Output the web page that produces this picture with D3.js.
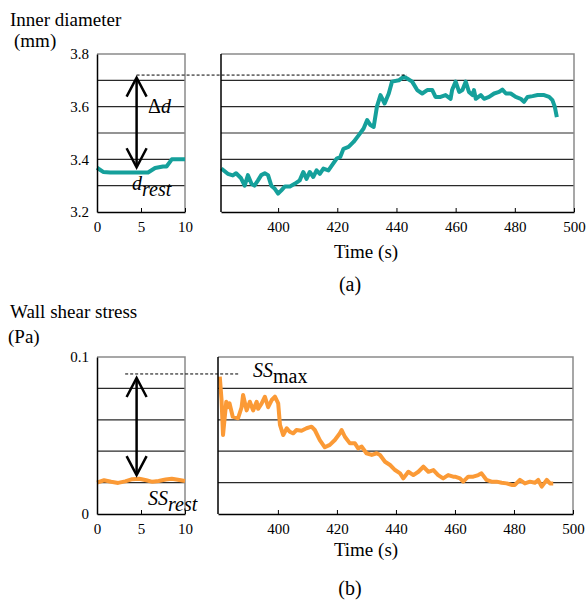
<!DOCTYPE html>
<html>
<head>
<meta charset="utf-8">
<script src="https://cdn.jsdelivr.net/npm/d3@7"></script>
<style>
  body { margin: 0; background: #fff; }
  svg text { font-family: "Liberation Serif", "Times New Roman", serif !important; fill: #000; }
</style>
</head>
<body>
<div id="chart"></div>
<script>
// ---- data ----
// (a) inner diameter, rest period (0-10 s)
var diamRestTime = [0, 0.7, 1.5, 2.5, 3.5, 4.5, 5.8, 6.6, 7.5, 7.9, 8.5, 9.2, 10];
var diamRestVal  = [3.368, 3.352, 3.35, 3.35, 3.35, 3.35, 3.35, 3.367, 3.373, 3.373, 3.40, 3.40, 3.40];

// (a) inner diameter, 380-494 s
var diamTime = [380.8, 383, 384.7, 385.8, 387.5, 388.7, 389.8, 391, 392, 393.2, 394.3, 395.5, 396.6, 397.7,
  398.9, 400, 401.1, 402.3, 404, 405.6, 407.3, 408.5, 409.6, 410.7, 411.9, 413, 414.1, 415.3, 417, 418.6,
  419.8, 421, 422.1, 423.8, 425.5, 427.2, 428.9, 430.1, 431.2, 432.3, 433.4, 434.6, 436, 437.4, 438.5,
  440.8, 442.5, 443.6, 445.3, 447, 448.7, 450.4, 452.1, 453.2, 454.9, 456.6, 458.3, 458.8, 460, 461.2,
  462.3, 463.4, 464.5, 465.7, 466.2, 466.8, 468.5, 469.6, 471.3, 473, 474.7, 475.8, 477, 478.6, 480.3,
  482, 483.1, 484.3, 486, 487.7, 489.9, 491.6, 492.7, 493.5, 494.2];
var diamVal = [3.365, 3.345, 3.339, 3.347, 3.328, 3.30, 3.34, 3.307, 3.30, 3.32, 3.34, 3.347, 3.34, 3.30,
  3.288, 3.27, 3.282, 3.297, 3.297, 3.307, 3.32, 3.352, 3.326, 3.352, 3.333, 3.358, 3.345, 3.365, 3.358, 3.384,
  3.403, 3.409, 3.44, 3.447, 3.466, 3.491, 3.517, 3.549, 3.53, 3.523, 3.60, 3.644, 3.612, 3.65, 3.695,
  3.70, 3.714, 3.707, 3.695, 3.663, 3.65, 3.663, 3.663, 3.637, 3.637, 3.644, 3.63, 3.663, 3.695, 3.656,
  3.663, 3.695, 3.656, 3.644, 3.663, 3.63, 3.644, 3.63, 3.637, 3.65, 3.656, 3.665, 3.65, 3.65, 3.637,
  3.63, 3.618, 3.637, 3.64, 3.644, 3.644, 3.637, 3.625, 3.60, 3.56];

// (b) wall shear stress, rest period
var ssRestTime = [0, 0.8, 1.6, 2.4, 3.2, 4, 4.8, 5.6, 6.3, 7, 7.8, 8.5, 9.2, 10];
var ssRestVal  = [0.020, 0.0215, 0.0205, 0.0198, 0.0208, 0.0222, 0.0225, 0.0215, 0.0205, 0.021, 0.022, 0.0225, 0.0218, 0.021];

// (b) wall shear stress, 380-494 s
var ssTime = [380.3, 380.9, 381.4, 381.9, 382.5, 383, 383.6, 384.7, 386.5, 387.7, 388.2, 389.4, 390.5, 391.6,
  392.8, 393.3, 394.5, 395.6, 396.7, 397.9, 399, 400.1, 400.7, 401.8, 403, 404, 405.2, 406.3, 408, 409.7,
  411.4, 412.5, 414.2, 415.9, 417.6, 419.3, 421, 421.6, 422.7, 424.4, 426.1, 427.2, 428.4, 430, 431.8,
  433.5, 434.6, 436.3, 438, 439.7, 441.4, 442.5, 444.2, 445.9, 447.6, 449.3, 451, 452.7, 454.3, 456,
  457.7, 459.4, 460, 461.7, 462.8, 464.5, 466.2, 467.9, 469, 470.7, 472.4, 474.1, 475.8, 477.5, 479.2,
  480.3, 482, 483.7, 485.4, 487.1, 488.2, 489.4, 491.1, 492.2, 493.3];
var ssVal = [0.0875, 0.0726, 0.0503, 0.06, 0.0715, 0.068, 0.0705, 0.062, 0.061, 0.068, 0.0758, 0.066, 0.0715, 0.066,
  0.0715, 0.067, 0.0705, 0.0747, 0.068, 0.0726, 0.0747, 0.0705, 0.0567, 0.0503, 0.0546, 0.0524, 0.0514, 0.0535, 0.053, 0.0546,
  0.0556, 0.0535, 0.0471, 0.0425, 0.044, 0.0471, 0.0514, 0.0535, 0.0492, 0.045, 0.045, 0.0418, 0.0429, 0.0387, 0.0376,
  0.0387, 0.0376, 0.0333, 0.0312, 0.028, 0.0259, 0.0227, 0.0269, 0.0248, 0.0269, 0.0301, 0.0269, 0.028, 0.0248, 0.0227,
  0.0248, 0.0238, 0.0238, 0.0227, 0.0206, 0.0238, 0.0238, 0.0248, 0.0259, 0.0217, 0.0206, 0.0206, 0.0199, 0.0195, 0.0185,
  0.0185, 0.0217, 0.0195, 0.0206, 0.0199, 0.0217, 0.0174, 0.0217, 0.0195, 0.0195];

// tick labels
var restTicks = [0, 5, 10];
var timeTicks = [400, 420, 440, 460, 480, 500];
var diamTicks = [3.2, 3.4, 3.6, 3.8];
var diamGrid = [3.3, 3.4, 3.5, 3.6, 3.7];
var ssTicks = [0, 0.1];
var ssGrid = [0.02, 0.04, 0.06, 0.08];

// annotation values
var diamMax = 3.72, diamArrow = [3.37, 3.71];
var ssMax = 0.0892, ssArrow = [0.0248, 0.0866];

var teal = "#15a09b", orange = "#fb9a36";

var svg = d3.select("#chart").append("svg")
  .attr("width", 588).attr("height", 601)
  .attr("font-family", "Liberation Serif");

function zip(a, b) { return a.map(function (d, i) { return [d, b[i]]; }); }

// draws one framed plot area, returns scales
function panel(x0, x1, y0, y1, xDom, yDom, xTicks, yTicks, grid, yFmt, pts, color) {
  var x = d3.scaleLinear().domain(xDom).range([x0, x1]);
  var y = d3.scaleLinear().domain(yDom).range([y1, y0]);
  var g = svg.append("g");

  g.selectAll(".grid").data(grid).enter().append("line")
    .attr("x1", x0).attr("x2", x1)
    .attr("y1", function (d) { return y(d); }).attr("y2", function (d) { return y(d); })
    .attr("stroke", "#2a2a2a").attr("stroke-width", 1.2);

  // gray frame (top, right)
  g.append("path")
    .attr("d", "M" + x0 + "," + y0 + "H" + x1 + "V" + y1)
    .attr("fill", "none").attr("stroke", "#8a8a8a").attr("stroke-width", 1.5);

  g.append("path")
    .datum(pts)
    .attr("fill", "none").attr("stroke", color).attr("stroke-width", 4)
    .attr("stroke-linejoin", "round")
    .attr("d", d3.line().x(function (d) { return x(d[0]); }).y(function (d) { return y(d[1]); }));

  g.append("g")
    .attr("transform", "translate(0," + y1 + ")")
    .call(d3.axisBottom(x).tickValues(xTicks).tickSizeInner(-4).tickSizeOuter(0).tickPadding(9));
  if (yTicks) {
    g.append("g")
      .attr("transform", "translate(" + x0 + ",0)")
      .call(d3.axisLeft(y).tickValues(yTicks).tickSize(0).tickPadding(8).tickFormat(yFmt));
  } else {
    g.append("line").attr("x1", x0).attr("x2", x0).attr("y1", y0).attr("y2", y1)
      .attr("stroke", "#000").attr("stroke-width", 1.5);
  }
  g.selectAll("g").attr("font-family", "Liberation Serif").attr("font-size", 15);
  g.selectAll(".domain").attr("stroke", "#000").attr("stroke-width", 1.5);
  g.selectAll(".tick line").attr("stroke", "#000");
  return { x: x, y: y };
}

function arrow(x, yTop, yBot) {
  var g = svg.append("g").attr("stroke", "#000").attr("stroke-width", 2.5).attr("fill", "none");
  g.append("line").attr("x1", x).attr("x2", x).attr("y1", yTop + 1).attr("y2", yBot - 1);
  g.append("path").attr("d", "M" + (x - 10) + "," + (yTop + 19) + "L" + x + "," + yTop + "L" + (x + 10) + "," + (yTop + 19));
  g.append("path").attr("d", "M" + (x - 10) + "," + (yBot - 19) + "L" + x + "," + yBot + "L" + (x + 10) + "," + (yBot - 19));
}

function dashed(xa, xb, yv) {
  svg.append("line").attr("x1", xa).attr("x2", xb).attr("y1", yv).attr("y2", yv)
    .attr("stroke", "#000").attr("stroke-width", 1).attr("stroke-dasharray", "3,2");
}

function label(x, y, txt, size, anchor) {
  return svg.append("text").attr("x", x).attr("y", y).attr("text-anchor", anchor || "start")
    .style("font-size", size + "px").text(txt);
}

// ---------- (a) ----------
var fmt1 = d3.format(".1f");
var aL = panel(97, 185, 54, 212, [0, 10], [3.2, 3.8], restTicks, diamTicks, diamGrid, fmt1, zip(diamRestTime, diamRestVal), teal);
var aR = panel(221, 574, 54, 212, [380.7, 500], [3.2, 3.8], timeTicks, null, diamGrid, null, zip(diamTime, diamVal), teal);

dashed(aL.x(4.5), aR.x(443.5), aL.y(diamMax));
arrow(aL.x(4.5), aL.y(diamArrow[1]), aL.y(diamArrow[0]));

var t = svg.append("text").attr("x", 148).attr("y", 113).style("font-size", "20px");
t.append("tspan").text("\u0394");
t.append("tspan").style("font-style", "italic").text("d");
t = svg.append("text").attr("x", 132).attr("y", 190).style("font-size", "20px").style("font-style", "italic");
t.append("tspan").text("d");
t.append("tspan").attr("dy", 6).text("rest");

label(10, 26, "Inner diameter", 19);
label(14, 47, "(mm)", 19);
label(366, 258, "Time (s)", 19, "middle");
label(350, 291, "(a)", 20, "middle");

// ---------- (b) ----------
var fmtSS = function (d) { return d === 0 ? "0" : fmt1(d); };
var bL = panel(97, 185, 357, 514, [0, 10], [0, 0.1], restTicks, ssTicks, ssGrid, fmtSS, zip(ssRestTime, ssRestVal), orange);
var bR = panel(218, 573, 357, 514, [379.7, 500], [0, 0.1], timeTicks, null, ssGrid, null, zip(ssTime, ssVal), orange);

dashed(bL.x(3.2), bR.x(387.2), bL.y(ssMax));
arrow(bL.x(4.5), bL.y(ssArrow[1]), bL.y(ssArrow[0]));

t = svg.append("text").attr("x", 253).attr("y", 377).style("font-size", "20px");
t.append("tspan").style("font-style", "italic").text("SS");
t.append("tspan").attr("dy", 6).text("max");
t = svg.append("text").attr("x", 148).attr("y", 505).style("font-size", "20px").style("font-style", "italic");
t.append("tspan").text("SS");
t.append("tspan").attr("dy", 6).text("rest");

label(10, 318, "Wall shear stress", 19);
label(8, 343, "(Pa)", 19);
label(366, 556, "Time (s)", 19, "middle");
label(350, 595, "(b)", 20, "middle");
</script>
</body>
</html>
